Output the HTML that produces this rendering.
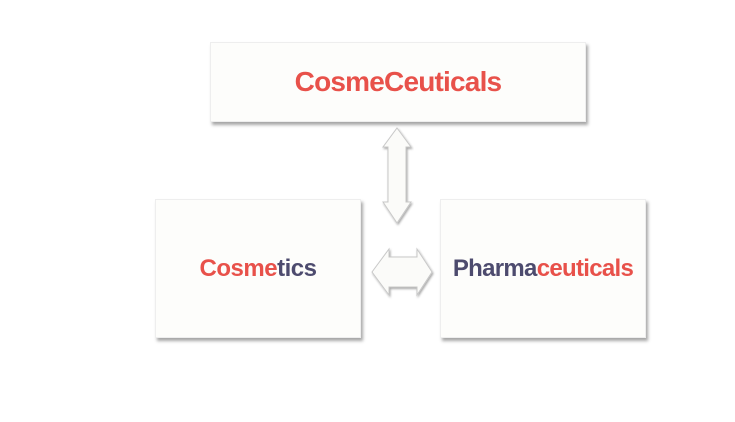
<!DOCTYPE html>
<html><head><style>
body{margin:0;width:735px;height:422px;background:#fff;position:relative;overflow:hidden;font-family:"Liberation Sans",sans-serif}
.b{position:absolute;background:#fdfdfb;border:1px solid #eee;box-shadow:2px 3px 3px rgba(0,0,0,0.35);display:flex;align-items:center;justify-content:center;font-weight:bold;letter-spacing:-0.5px}
.r{color:#e8514a}.p{color:#4d4b6e}
</style></head><body>
<div class="b r" style="left:210px;top:42px;width:374px;height:78px;font-size:28px;letter-spacing:-0.8px">CosmeCeuticals</div>
<div class="b" style="left:155px;top:199px;width:204px;height:137px;font-size:24px"><span class="r">Cosme</span><span class="p">tics</span></div>
<div class="b" style="left:440px;top:199px;width:204px;height:137px;font-size:24px;letter-spacing:-0.7px"><span class="p">Pharma</span><span class="r">ceuticals</span></div>
<svg width="735" height="422" style="position:absolute;left:0;top:0">
<defs><filter id="s"><feDropShadow dx="1" dy="1.5" stdDeviation="1" flood-opacity="0.35"/></filter></defs>
<polygon filter="url(#s)" fill="#fbfbf9" stroke="#c8c8c8" points="397,128 411,147 406,147 406,202 411,202 397,223 383,202 388,202 388,147 383,147"/>
<polygon filter="url(#s)" fill="#fbfbf9" stroke="#c8c8c8" points="372,272 389,249 389,257 417,257 417,249 432,272 417,295 417,287 389,287 389,295"/>
</svg>
</body></html>
